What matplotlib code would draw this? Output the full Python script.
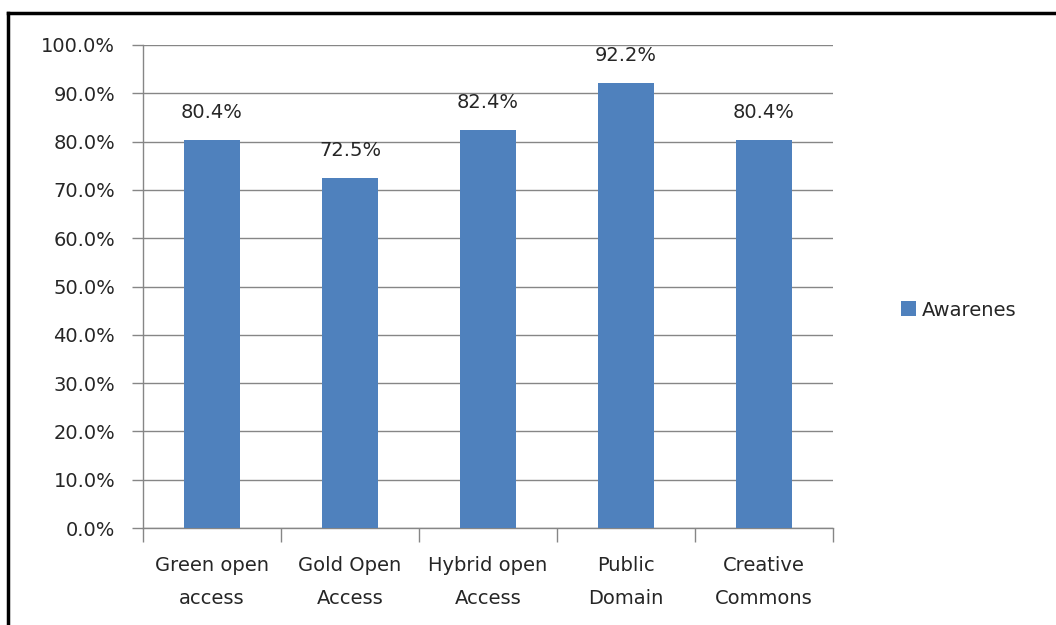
import matplotlib
matplotlib.use("Agg")
import matplotlib.pyplot as plt
from matplotlib.lines import Line2D
from matplotlib.patches import Patch

categories = ["Green open\naccess", "Gold Open\nAccess", "Hybrid open\nAccess", "Public\nDomain", "Creative\nCommons"]
values = [80.4, 72.5, 82.4, 92.2, 80.4]
series_name = "Awarenes"
yticks = [0, 10, 20, 30, 40, 50, 60, 70, 80, 90, 100]

plt.rcParams['font.family'] = ['DejaVu Sans']
bar_color = "#4F81BD"
grid_color = "#868686"
text_color = "#262626"
fs = 14

fig = plt.figure(figsize=(10.56, 6.25), dpi=100)
ax = fig.add_axes([143/1056, 1-528/625, (833-143)/1056, (528-45)/625])

x = list(range(len(categories)))
ax.bar(x, values, width=0.405, color=bar_color, zorder=3, label=series_name)
ax.set_xlim(-0.5, len(categories)-0.5)
ax.set_ylim(0, 100)
ax.set_yticks(yticks)
ax.set_yticklabels([f"{v:.1f}%" for v in yticks], fontsize=fs, color=text_color)
ax.yaxis.grid(True, color=grid_color, linewidth=1.0, zorder=0)
ax.tick_params(axis='y', length=8, width=1, color=grid_color, pad=12)

ax.set_xticks([i - 0.5 for i in range(len(categories)+1)], minor=False)
ax.set_xticklabels([])
ax.tick_params(axis='x', which='major', length=10, width=1, color=grid_color, direction='out')
ax.set_xticks(x, minor=True)
ax.set_xticklabels(categories, minor=True, fontsize=fs, color=text_color, linespacing=1.95)
ax.tick_params(axis='x', which='minor', length=0, pad=20)

for s in ['top', 'right']:
    ax.spines[s].set_visible(False)
for s in ['left', 'bottom']:
    ax.spines[s].set_color(grid_color)
    ax.spines[s].set_linewidth(1.0)

for xi, v in zip(x, values):
    ax.annotate(f"{v:.1f}%", (xi, v), xytext=(0, 13), textcoords='offset points',
                ha='center', va='bottom', fontsize=fs, color=text_color)

handles = [Patch(facecolor=bar_color, label=series_name)]
fig.legend(handles=handles, loc='center left', bbox_to_anchor=(883/1056, 1-310/625),
           frameon=False, fontsize=fs, handlelength=0.8, handleheight=0.8,
           handletextpad=0.3, labelcolor=text_color)

# outer border (top and left lines)
fig.add_artist(Line2D([8/1056, 1.0], [1-13/625, 1-13/625], color='black', linewidth=2.5,
                      transform=fig.transFigure))
fig.add_artist(Line2D([8/1056, 8/1056], [0.0, 1-13/625], color='black', linewidth=2.5,
                      transform=fig.transFigure))

fig.savefig("out.png", dpi=100)
